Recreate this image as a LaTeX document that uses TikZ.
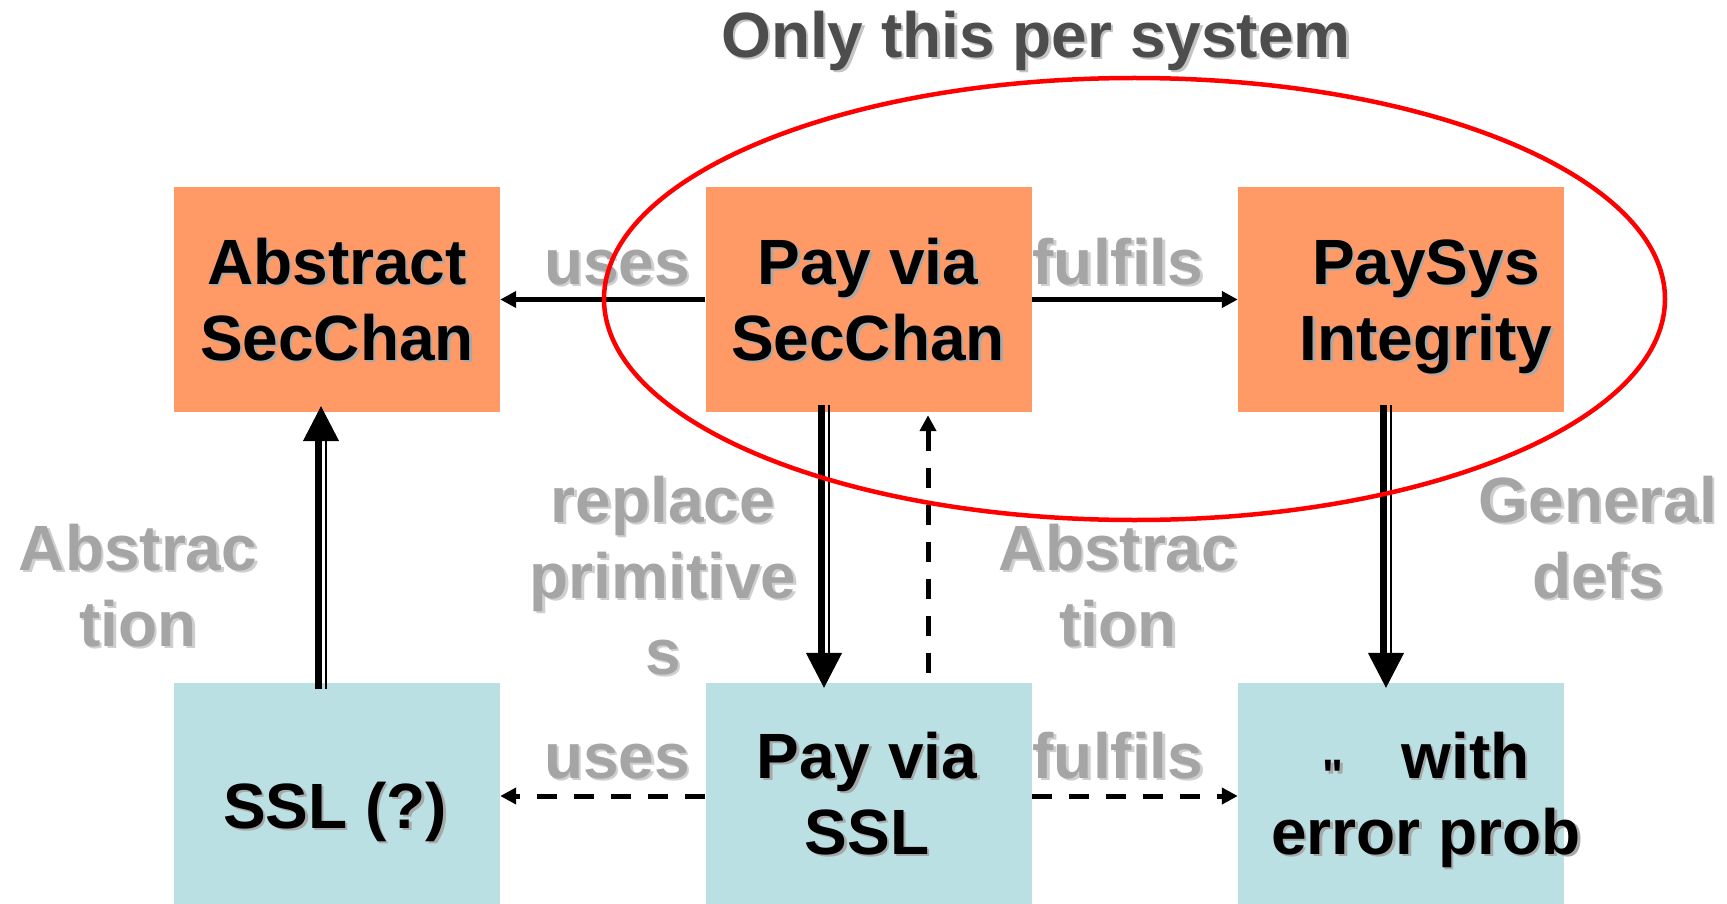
\documentclass[tikz,border=0pt]{standalone}
\usepackage{fontspec}
\setmainfont{Liberation Sans}
% same family without TeX input mapping, so " stays a straight ditto mark
\newfontfamily\dittofont{Liberation Sans}[Ligatures=ResetAll]
\usetikzlibrary{arrows.meta,calc}

\definecolor{boxOrange}{HTML}{FF9966}
\definecolor{boxCyan}{HTML}{BBE0E3}
\definecolor{lblGray}{HTML}{A5A5A5}
\definecolor{shGray}{HTML}{CFCFCF}
\definecolor{shBlack}{HTML}{A8A8A8}
\definecolor{ttlGray}{HTML}{4D4D4D}
\definecolor{shTtl}{HTML}{C4C4C4}

% text with a small drop shadow, one line at a time
\newlength\shoff
\setlength\shoff{2.5pt}
\newcommand\shadowed[2]{\rlap{\kern\shoff\raisebox{-\shoff}{\textcolor{#1}{#2}}}#2\strut}
\newcommand\blkline[1]{\shadowed{shBlack}{#1}}
\newcommand\gryline[1]{\shadowed{shGray}{#1}}
\newcommand\ttlline[1]{\shadowed{shTtl}{#1}}

% thick + thin double shaft with a big filled head
\newcommand\dblarrow[2]{%
  \draw[line width=7pt, shorten >=30pt] ([xshift=-2.5pt]#1) -- ([xshift=-2.5pt]#2);
  \draw[line width=2.5pt, shorten >=30pt] ([xshift=4.75pt]#1) -- ([xshift=4.75pt]#2);
  \draw[line width=1pt, -{Triangle[length=35pt,width=36pt]}] (#1) -- (#2);}

\tikzset{
  boxo/.style={rectangle, fill=boxOrange, inner sep=0pt, minimum width=326pt, minimum height=225pt},
  boxc/.style={rectangle, fill=boxCyan, inner sep=0pt, minimum width=326pt, minimum height=221pt},
  txt/.style={inner sep=0pt, align=center, font=\bfseries\fontsize{64}{76}\selectfont},
  blk/.style={txt, text=black},
  lbl/.style={txt, text=lblGray},
  ttl/.style={txt, text=ttlGray},
  thinarr/.style={line width=4.5pt, -{Triangle[length=16pt,width=16pt]}},
  dasharr/.style={thinarr, line width=5pt, dash pattern=on 20pt off 17pt},
}

\begin{document}
\begin{tikzpicture}[x=1pt, y=-1pt]
\useasboundingbox (0,0) rectangle (1727,904);

% boxes
\node[boxo] (abs)    at (337,299.5)  {};
\node[boxo] (paysc)  at (868.5,299.5) {};
\node[boxo] (paysys) at (1401,299.5) {};
\node[boxc] (ssl)    at (337,793.5)  {};
\node[boxc] (payssl) at (868.5,793.5) {};
\node[boxc] (err)    at (1401,793.5) {};

% box texts
\node[blk] (tAbs)    at (337,307)  {\blkline{Abstract}\\\blkline{SecChan}};
\node[blk] (tPaySC)  at (868,307)  {\blkline{Pay via}\\\blkline{SecChan}};
\node[blk] (tPaySys) at (1426,307) {\blkline{PaySys}\\\blkline{Integrity}};
\node[blk] (tSSL)    at (335,813)  {\blkline{SSL (?)}};
\node[blk] (tPaySSL) at (867,801)  {\blkline{Pay via}\\\blkline{SSL}};
\node[blk] (tErr)    at (1426,801) {\blkline{\raisebox{-12.6pt}{\dittofont\bfseries\fontsize{44}{50}\selectfont"}\hspace{58pt}with}\\\blkline{error prob}};

% title
\node[ttl] (title) at (1036,42) {\ttlline{Only this per system}};

% connector labels
\node[lbl] (lUsesT) at (617,269)  {\gryline{uses}};
\node[lbl] (lFulT)  at (1118,269) {\gryline{fulfils}};
\node[lbl] (lUsesB) at (617,763)  {\gryline{uses}};
\node[lbl] (lFulB)  at (1118,763) {\gryline{fulfils}};
\node[lbl] (lRepl)  at (663,583)  {\gryline{replace}\\\gryline{primitive}\\\gryline{s}};
\node[lbl] (lAbsL)  at (138,593)  {\gryline{Abstrac}\\\gryline{tion}};
\node[lbl] (lAbsM)  at (1118,593) {\gryline{Abstrac}\\\gryline{tion}};
\node[lbl] (lGen)   at (1598,545) {\gryline{General}\\\gryline{defs}};

% horizontal connectors
\draw[thinarr] (paysc.west) -- (abs.east);
\draw[thinarr] (paysc.east) -- (paysys.west);
\draw[dasharr] ([yshift=-2.5pt]payssl.west) -- ([yshift=-2.5pt]ssl.east);
\draw[dasharr] ([yshift=-2.5pt]payssl.east) -- ([yshift=-2.5pt]err.west);

% vertical connectors
\coordinate (aS) at ([xshift=-16pt,yshift=-6pt]ssl.north);
\coordinate (aE) at ([xshift=-16pt,yshift=6pt]abs.south);
\coordinate (bS) at ([xshift=-44.5pt,yshift=7pt]paysc.south);
\coordinate (bE) at ([xshift=-44.5pt,yshift=-5pt]payssl.north);
\coordinate (cS) at ([xshift=-15pt,yshift=7pt]paysys.south);
\coordinate (cE) at ([xshift=-15pt,yshift=-5pt]err.north);
\dblarrow{aS}{aE}
\dblarrow{bS}{bE}
\dblarrow{cS}{cE}
\draw[dasharr] ([xshift=59.5pt,yshift=10pt]payssl.north) -- ([xshift=59.5pt,yshift=-3pt]paysc.south);

% the per-system part
\draw[red, line width=4.5pt] (1134.5,299) ellipse [x radius=530.5, y radius=221];
\end{tikzpicture}
\end{document}
